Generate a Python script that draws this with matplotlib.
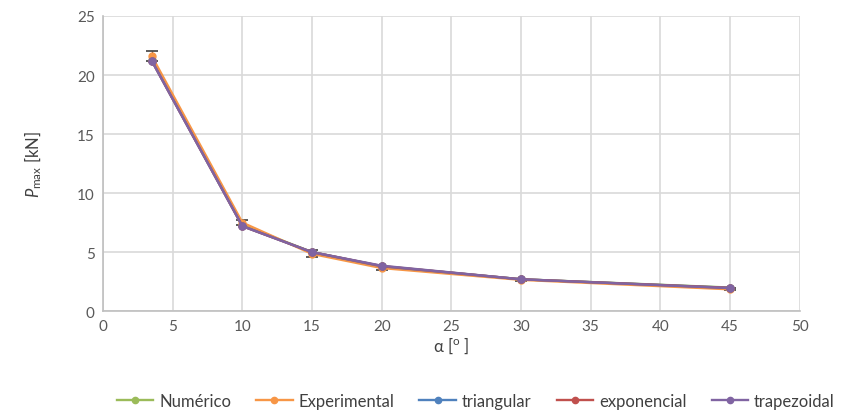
import matplotlib.pyplot as plt
from matplotlib.lines import Line2D

# Data
alpha = [3.5, 10, 15, 20, 30, 45]
numerico = [21.3, 7.3, 5.0, 3.8, 2.7, 2.0]
experimental = [21.6, 7.5, 4.85, 3.65, 2.65, 1.85]
experimental_err = [0.45, 0.2, 0.3, 0.2, 0.1, 0.1]
triangular = [21.2, 7.2, 5.0, 3.8, 2.7, 1.98]
exponencial = [21.2, 7.2, 5.0, 3.82, 2.7, 1.97]
trapezoidal = [21.2, 7.2, 5.0, 3.85, 2.7, 1.95]

series = [
    ("Numérico", numerico, "#9BBB59"),
    ("Experimental", experimental, "#F79646"),
    ("triangular", triangular, "#4F81BD"),
    ("exponencial", exponencial, "#C0504D"),
    ("trapezoidal", trapezoidal, "#8064A2"),
]

plt.rcParams['font.family'] = ['Lato', 'DejaVu Sans']
plt.rcParams['mathtext.fontset'] = 'custom'
plt.rcParams['mathtext.it'] = 'Lato:italic'
plt.rcParams['mathtext.rm'] = 'Lato'

fig = plt.figure(figsize=(8.48, 4.14), dpi=100)
ax = fig.add_axes([0.1215, 0.246, 0.8215, 0.713])

handles = []
for i, (name, vals, col) in enumerate(series):
    if name == "Experimental":
        ax.errorbar(alpha, vals, yerr=experimental_err, fmt='none',
                    ecolor='#404040', elinewidth=0.9, capsize=4,
                    capthick=1.2, zorder=2)
    ax.plot(alpha, vals, color=col, lw=1.7, marker='o', ms=5, zorder=3 + i)
    handles.append(Line2D([], [], color=col, lw=1.7, marker='o', ms=4.5,
                          label=name))

ax.set_xlim(0, 50)
ax.set_ylim(0, 25)
ax.set_xticks(range(0, 51, 5))
ax.set_yticks(range(0, 26, 5))
ax.grid(True, color='#D9D9D9', lw=1.2)
ax.set_axisbelow(True)
for s in ['top', 'right']:
    ax.spines[s].set_visible(False)
for s in ['left', 'bottom']:
    ax.spines[s].set_color('#BFBFBF')
    ax.spines[s].set_linewidth(1.2)
ax.tick_params(length=0, labelsize=11, colors='#595959', pad=6)

ax.set_xlabel(r"α [$^\mathregular{o}$ ]", fontsize=12, color='#404040', labelpad=1)
ax.set_ylabel(r"$P_\mathregular{max}$ [kN]", fontsize=12, color='#404040', labelpad=24)

ax.legend(handles=handles, loc='center', bbox_to_anchor=(0.535, -0.305), ncol=5,
          frameon=False, fontsize=12, handlelength=2.2, columnspacing=1.5,
          handletextpad=0.35, labelcolor='#404040')

fig.savefig("out.png", dpi=100)
